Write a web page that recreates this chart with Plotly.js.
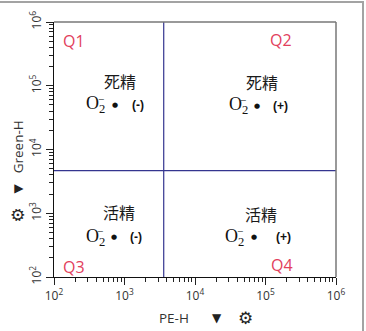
<!DOCTYPE html>
<html>
<head>
<meta charset="utf-8">
<script src="https://cdn.plot.ly/plotly-3.0.1.min.js"></script>
<style>
  html, body { margin: 0; padding: 0; background: #fff; }
  #wrap { position: relative; width: 366px; height: 331px; }
  #chart { position: absolute; left: 0; top: 0; width: 366px; height: 331px; }
  #frame { position: absolute; left: -2px; top: 1px; width: 366px; height: 340px;
           border-top: 2px solid #a3a3a3; border-right: 2px solid #a3a3a3; box-sizing: border-box; pointer-events: none; }
</style>
</head>
<body>
<div id="wrap">
  <div id="chart"></div>
  <div id="frame"></div>
</div>
<script>
// ---- data ----
const xDecades = [2, 3, 4, 5, 6];            // PE-H axis: 10^2 .. 10^6
const yDecades = [2, 3, 4, 5, 6];            // Green-H axis: 10^2 .. 10^6
const gateX = 3600;                          // vertical quadrant gate (PE-H)
const gateY = 4650;                          // horizontal quadrant gate (Green-H)
const quadNames = ['Q1', 'Q2', 'Q3', 'Q4'];
const spermState = ['死精', '死精', '活精', '活精'];
const rosSign = ['(-)', '(+)', '(-)', '(+)'];
const xTitle = 'PE-H';
const yTitle = 'Green-H';

// label anchor positions (log10 units) per quadrant
const qLabelX = [2.28, 5.22, 2.29, 5.23];
const qLabelY = [5.70, 5.71, 2.16, 2.19];
const stateX = [2.94, 4.945, 2.92, 4.93];
const stateY = [5.07, 5.06, 3.02, 2.99];
const rosY = [4.70, 4.69, 2.62, 2.62];
const o2X = [2.59, 4.615, 2.585, 4.565];
const dotX = [2.87, 4.88, 2.855, 4.84];
const signX = [3.19, 5.21, 3.16, 5.25];

const majorX = xDecades.map(d => Math.pow(10, d));
const majorY = yDecades.map(d => Math.pow(10, d));
const fmt = d => '10<sup>' + d + '</sup>';
function minorVals(decs) {
  const v = [];
  for (let i = 0; i < decs.length - 1; i++)
    for (let k = 2; k <= 9; k++) v.push(k * Math.pow(10, decs[i]));
  return v;
}

const gateColor = '#34358f';
const traces = [
  { x: [gateX, gateX], y: [majorY[0], majorY[majorY.length - 1]], mode: 'lines',
    line: { color: gateColor, width: 1.2 }, hoverinfo: 'skip', showlegend: false },
  { x: [majorX[0], majorX[majorX.length - 1]], y: [gateY, gateY], mode: 'lines',
    line: { color: gateColor, width: 1.2 }, hoverinfo: 'skip', showlegend: false }
];

const ann = [];
const red = '#e2405c';
const C = { xanchor: 'center', yanchor: 'middle', showarrow: false };
for (let i = 0; i < 4; i++) {
  ann.push(Object.assign({ x: qLabelX[i], y: qLabelY[i], xref: 'x', yref: 'y', text: quadNames[i],
             font: { family: 'Open Sans, Noto Sans, sans-serif', size: 16, color: red } }, C));
  ann.push(Object.assign({ x: stateX[i], y: stateY[i], xref: 'x', yref: 'y', text: spermState[i],
             font: { family: 'Noto Sans CJK SC, sans-serif', size: 16, color: '#1a1a1a' } }, C));
  ann.push(Object.assign({ x: o2X[i], y: rosY[i], xref: 'x', yref: 'y', text: 'O<sub>2</sub>',
             font: { family: 'Liberation Serif, DejaVu Serif, serif', size: 18, color: '#111' } }, C));
  ann.push(Object.assign({ x: o2X[i], y: rosY[i], xref: 'x', yref: 'y', text: '−', xshift: 5, yshift: 6,
             font: { family: 'Liberation Serif, DejaVu Serif, serif', size: 11, color: '#111' } }, C));
  ann.push(Object.assign({ x: dotX[i], y: rosY[i], xref: 'x', yref: 'y', text: '●',
             font: { family: 'DejaVu Sans, sans-serif', size: 7, color: '#111' } }, C));
  ann.push(Object.assign({ x: signX[i], y: rosY[i], xref: 'x', yref: 'y', text: '<b>' + rosSign[i] + '</b>',
             font: { family: 'Liberation Sans, Arial, sans-serif', size: 12, color: '#111' } }, C));
}
// axis titles with dropdown arrow and gear icon
const titleFont = { family: 'Open Sans, Noto Sans, sans-serif', size: 13.5, color: '#333' };
const triFont = { family: 'DejaVu Sans, sans-serif', size: 12, color: '#222' };
const gearFont = { family: 'DejaVu Sans, sans-serif', size: 17, color: '#222' };
ann.push(Object.assign({ x: 0.4265, y: -0.161, xref: 'paper', yref: 'paper', text: xTitle, font: titleFont }, C));
ann.push(Object.assign({ x: 0.579, y: -0.161, xref: 'paper', yref: 'paper', text: '▼', font: triFont }, C));
ann.push(Object.assign({ x: 0.678, y: -0.161, xref: 'paper', yref: 'paper', text: '<b>⚙</b>', font: gearFont }, C));
ann.push(Object.assign({ x: -0.129, y: 0.511, xref: 'paper', yref: 'paper', textangle: -90, text: yTitle, font: titleFont }, C));
ann.push(Object.assign({ x: -0.129, y: 0.346, xref: 'paper', yref: 'paper', textangle: -90, text: '▼', font: triFont }, C));
ann.push(Object.assign({ x: -0.129, y: 0.244, xref: 'paper', yref: 'paper', textangle: -90, text: '<b>⚙</b>', font: gearFont }, C));

const axisCommon = {
  type: 'log', showgrid: false, zeroline: false,
  showline: true, linecolor: '#111', linewidth: 1.2,
  ticks: 'outside', ticklen: 7, tickcolor: '#222', tickwidth: 1,
  tickfont: { family: 'Open Sans, Noto Sans, sans-serif', size: 12, color: '#333' },
  tickmode: 'array', fixedrange: true
};

const layout = {
  width: 366, height: 331,
  margin: { l: 54, r: 30, t: 22, b: 54 },
  paper_bgcolor: 'rgba(0,0,0,0)', plot_bgcolor: '#fff',
  showlegend: false,
  xaxis: Object.assign({}, axisCommon, {
    range: [xDecades[0], xDecades[xDecades.length - 1]],
    tickvals: majorX, ticktext: xDecades.map(fmt),
    minor: { tickmode: 'array', tickvals: minorVals(xDecades), ticks: 'outside', ticklen: 4, tickcolor: '#222', showgrid: false }
  }),
  yaxis: Object.assign({}, axisCommon, {
    range: [yDecades[0], yDecades[yDecades.length - 1]],
    tickvals: majorY, ticktext: yDecades.map(fmt), tickangle: -90,
    minor: { tickmode: 'array', tickvals: minorVals(yDecades), ticks: 'outside', ticklen: 4, tickcolor: '#222', showgrid: false }
  }),
  shapes: [
    { type: 'line', xref: 'paper', yref: 'paper', x0: 0, x1: 1, y0: 1, y1: 1, line: { color: '#777', width: 1.5 } },
    { type: 'line', xref: 'paper', yref: 'paper', x0: 1, x1: 1, y0: 0, y1: 1, line: { color: '#777', width: 1.5 } }
  ],
  annotations: ann
};

Plotly.newPlot('chart', traces, layout, { displayModeBar: false, staticPlot: true });
</script>
</body>
</html>
